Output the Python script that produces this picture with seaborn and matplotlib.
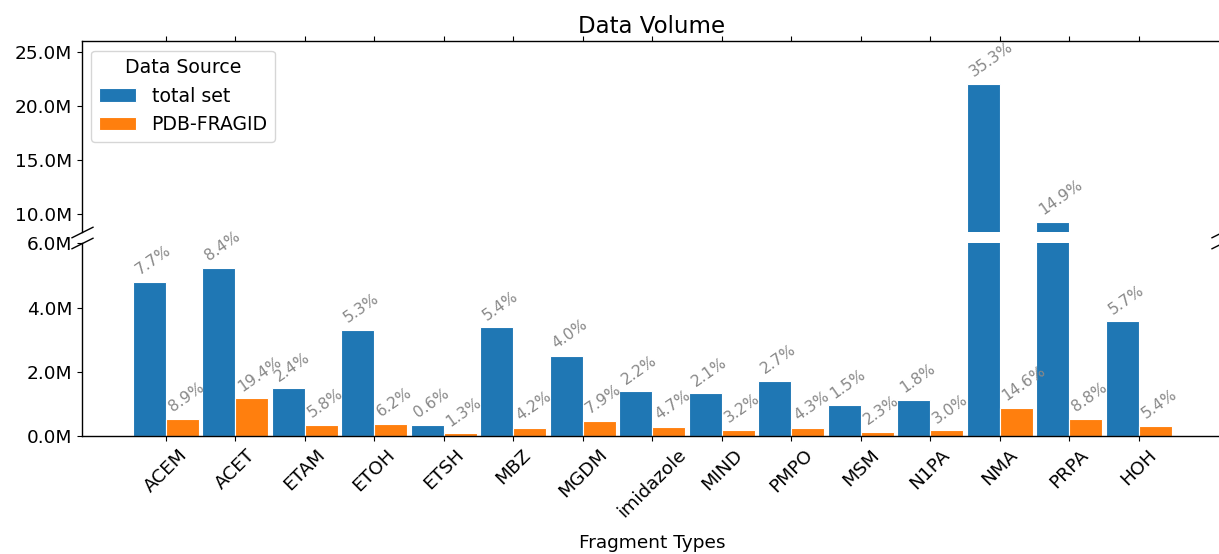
import numpy as np
import pandas as pd
import matplotlib
matplotlib.use("Agg")
import matplotlib.pyplot as plt
from matplotlib.ticker import FuncFormatter, MultipleLocator
import seaborn as sns

# ── data (counts in millions) ─────────────────
fragments = ["ACEM", "ACET", "ETAM", "ETOH", "ETSH", "MBZ", "MGDM", "imidazole",
             "MIND", "PMPO", "MSM", "N1PA", "NMA", "PRPA", "HOH"]
total_set = [4.81, 5.23, 1.48, 3.31, 0.35, 3.39, 2.50, 1.39,
             1.33, 1.71, 0.95, 1.12, 22.05, 9.30, 3.57]
pdb_fragid = [0.54, 1.175, 0.35, 0.375, 0.08, 0.255, 0.48, 0.285,
              0.195, 0.26, 0.14, 0.18, 0.885, 0.535, 0.325]
sources = ["total set", "PDB-FRAGID"]

df = pd.DataFrame({
    "Fragment Types": fragments * 2,
    "count": total_set + pdb_fragid,
    "Data Source": [sources[0]] * len(fragments) + [sources[1]] * len(fragments),
})

# ── theme ─────────────────────────────────────
sns.set_style("ticks")
plt.rcParams.update({
    "font.family": ["DejaVu Sans"],
    "font.size": 13.3,
    "axes.titlesize": 16.5,
    "axes.labelsize": 13.3,
    "xtick.labelsize": 13.3,
    "ytick.labelsize": 13.3,
    "legend.fontsize": 13.6,
    "legend.title_fontsize": 13.6,
    "axes.linewidth": 1.0,
    "text.color": "black",
    "axes.labelcolor": "black",
    "axes.edgecolor": "black",
    "xtick.color": "black",
    "ytick.color": "black",
})
palette = {"total set": "#1f77b4", "PDB-FRAGID": "#ff7f0e"}
mfmt = FuncFormatter(lambda v, _: f"{v:.1f}M")

fig = plt.figure(figsize=(12.19, 5.54), dpi=100)
ax_top = fig.add_axes([0.067, 0.5818, 0.9355, 0.3437])
ax_bot = fig.add_axes([0.067, 0.2130, 0.9355, 0.3478])

for ax, leg in ((ax_top, True), (ax_bot, False)):
    sns.barplot(data=df, x="Fragment Types", y="count", hue="Data Source",
                palette=palette, width=0.95, saturation=1, errorbar=None,
                edgecolor="white", linewidth=0.8, legend=leg, ax=ax)
    ax.set_xlim(-1.21, 15.2)
    ax.yaxis.set_major_formatter(mfmt)
    ax.set_ylabel("")

# top part of the broken axis
ax_top.set_ylim(8.4, 26)
ax_top.yaxis.set_major_locator(MultipleLocator(5))
ax_top.spines["bottom"].set_visible(False)
ax_top.xaxis.tick_top()
ax_top.tick_params(axis="x", labeltop=False)
ax_top.set_xlabel("")
ax_top.set_title("Data Volume")
sns.move_legend(ax_top, "upper left", title="Data Source")

# bottom part
ax_bot.set_ylim(0, 6)
ax_bot.yaxis.set_major_locator(MultipleLocator(2))
ax_bot.spines["top"].set_visible(False)
ax_bot.xaxis.tick_bottom()
ax_bot.tick_params(axis="x", labelrotation=45)
ax_bot.set_xlabel("Fragment Types", labelpad=9)

# break marks
kw = dict(marker=[(-1, -0.5), (1, 0.5)], markersize=16, linestyle="none",
          color="k", mec="k", mew=1, clip_on=False)
ax_top.plot([0, 1], [0, 0], transform=ax_top.transAxes, **kw)
ax_bot.plot([0, 1], [1, 1], transform=ax_bot.transAxes, **kw)

# percentage labels
for k, vals in enumerate([total_set, pdb_fragid]):
    pct = 100 * np.array(vals) / np.sum(vals)
    for bar, h, p in zip(ax_bot.containers[k], vals, pct):
        ax = ax_top if h > 6 else ax_bot
        ax.annotate(f"{p:.1f}%", (bar.get_x(), h), xytext=(0, 3),
                    textcoords="offset points", rotation=35,
                    ha="left", va="bottom", color="#888888", fontsize=11.2)

plt.savefig("out.png", dpi=100)
